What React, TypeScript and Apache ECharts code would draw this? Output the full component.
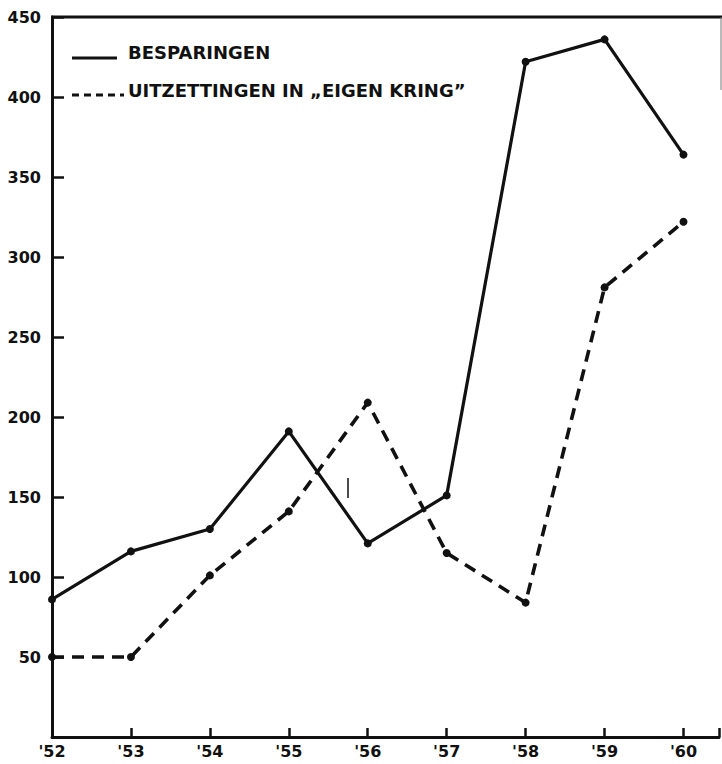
import React, { useEffect, useRef } from "react";
import * as echarts from "echarts";

const years = [1952, 1953, 1954, 1955, 1956, 1957, 1958, 1959, 1960];
const besparingen = [86, 116, 130, 191, 121, 151, 422, 436, 364];
const uitzettingen = [50, 50, 101, 141, 209, 115, 84, 281, 322];
const yTicks = [50, 100, 150, 200, 250, 300, 350, 400, 450];
const seriesNames = ["BESPARINGEN", "UITZETTINGEN IN \u201EEIGEN KRING\u201D"];

const INK = "#111";
const FONT = "'DejaVu Sans', sans-serif";

export default function App() {
  const ref = useRef<HTMLDivElement>(null);
  useEffect(() => {
    if (!ref.current) return;
    const chart = echarts.init(ref.current, undefined, { renderer: "svg" });
    const pair = (vals: number[]) => years.map((y, i) => [y, vals[i]]);
    chart.setOption({
      animation: false,
      backgroundColor: "#fff",
      grid: { left: 52, right: 0, top: 17, bottom: 27, containLabel: false },
      xAxis: {
        type: "value",
        min: 1952,
        max: 1960.45,
        interval: 1,
        splitLine: { show: false },
        axisLine: { show: true, lineStyle: { color: INK, width: 3 } },
        axisTick: { show: true, inside: true, length: 9, lineStyle: { color: INK, width: 2.5 } },
        axisLabel: {
          color: INK,
          fontFamily: FONT,
          fontWeight: "bold",
          fontSize: 16,
          margin: 6,
          formatter: (v: number) =>
            Number.isInteger(v) && years.includes(v) ? "'" + String(v).slice(2) : "",
        },
      },
      yAxis: {
        type: "value",
        min: 0,
        max: 450,
        interval: 50,
        splitLine: { show: false },
        axisLine: { show: true, lineStyle: { color: INK, width: 3 } },
        axisTick: { show: true, inside: true, length: 12, lineStyle: { color: INK, width: 2.5 } },
        axisLabel: {
          color: INK,
          fontFamily: FONT,
          fontWeight: "bold",
          fontSize: 16,
          margin: 11,
          formatter: (v: number) => (yTicks.includes(v) ? String(v) : ""),
        },
      },
      series: [
        {
          name: seriesNames[0],
          type: "line",
          data: pair(besparingen),
          symbol: "circle",
          symbolSize: 8,
          itemStyle: { color: INK },
          lineStyle: { color: INK, width: 3.2, type: "solid" },
        },
        {
          name: seriesNames[1],
          type: "line",
          data: pair(uitzettingen),
          symbol: "circle",
          symbolSize: 8,
          itemStyle: { color: INK },
          lineStyle: { color: INK, width: 3.6, type: [12, 8] },
        },
      ],
      graphic: [
        { type: "line", shape: { x1: 51, y1: 17, x2: 722, y2: 17 }, style: { stroke: INK, lineWidth: 3 } },
        { type: "line", shape: { x1: 721, y1: 17, x2: 721, y2: 90 }, style: { stroke: "#777", lineWidth: 1 } },
        { type: "line", shape: { x1: 72, y1: 58, x2: 117, y2: 58 }, style: { stroke: INK, lineWidth: 3.2 } },
        {
          type: "text",
          x: 128,
          y: 52,
          style: { text: seriesNames[0], fill: INK, font: "bold 18px 'DejaVu Sans', sans-serif", textVerticalAlign: "middle" },
        },
        {
          type: "line",
          shape: { x1: 72, y1: 95, x2: 124, y2: 95 },
          style: { stroke: INK, lineWidth: 3, lineDash: [7, 5] },
        },
        {
          type: "text",
          x: 128,
          y: 90,
          style: { text: seriesNames[1], fill: INK, font: "bold 18px 'DejaVu Sans', sans-serif", textVerticalAlign: "middle" },
        },
        { type: "line", shape: { x1: 348, y1: 478, x2: 348, y2: 498 }, style: { stroke: INK, lineWidth: 1.5 } },
      ],
    });
    return () => chart.dispose();
  }, []);
  return (
    <div
      ref={ref}
      style={{ position: "absolute", left: 0, top: 0, width: 722, height: 764, background: "#fff" }}
    />
  );
}
